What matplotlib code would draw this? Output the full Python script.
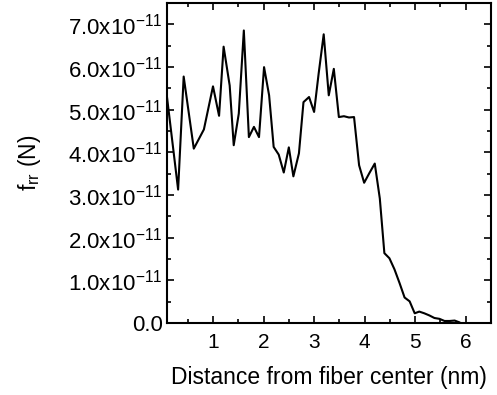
import numpy as np
import matplotlib
matplotlib.use("Agg")
import matplotlib.pyplot as plt
from matplotlib.ticker import MultipleLocator, FixedLocator, FuncFormatter

plt.rcParams['font.family'] = ['Liberation Sans', 'DejaVu Sans']
plt.rcParams['mathtext.fontset'] = 'custom'
plt.rcParams['mathtext.rm'] = 'Liberation Sans'
plt.rcParams['mathtext.it'] = 'Liberation Sans'

# distance (nm) and radial force (units of 1e-11 N)
dist = [0.09, 0.31, 0.42, 0.62, 0.82, 1.00, 1.12, 1.21, 1.33, 1.41,
        1.51, 1.61, 1.71, 1.81, 1.91, 2.01, 2.11, 2.20, 2.30, 2.40,
        2.50, 2.59, 2.70, 2.79, 2.90, 3.00, 3.09, 3.19, 3.29, 3.39,
        3.49, 3.59, 3.69, 3.79, 3.89, 3.99, 4.09, 4.20, 4.30, 4.39,
        4.49, 4.59, 4.69, 4.79, 4.89, 4.99, 5.08, 5.18, 5.28, 5.38,
        5.48, 5.58, 5.68, 5.78, 5.87]
force = [5.30, 3.13, 5.78, 4.09, 4.54, 5.55, 4.86, 6.48, 5.57, 4.17,
         4.91, 6.86, 4.36, 4.60, 4.36, 6.00, 5.34, 4.13, 3.95, 3.53,
         4.12, 3.44, 3.98, 5.18, 5.30, 4.95, 5.85, 6.77, 5.34, 5.96,
         4.83, 4.85, 4.82, 4.83, 3.70, 3.29, 3.51, 3.74, 2.92, 1.64,
         1.52, 1.26, 0.94, 0.60, 0.51, 0.23, 0.27, 0.23, 0.18, 0.12,
         0.10, 0.05, 0.05, 0.06, 0.02]
yticks = [0, 1, 2, 3, 4, 5, 6, 7]

fig = plt.figure(figsize=(4.97, 3.95), dpi=100)
ax = fig.add_axes([0.336, 0.182, 0.652, 0.810])
ax.plot(dist, np.array(force) * 1e-11, color='black', lw=1.5)

ax.set_xlim(0.09, 6.5)
ax.set_ylim(0, 7.5e-11)
ax.xaxis.set_major_locator(MultipleLocator(1))
ax.xaxis.set_minor_locator(MultipleLocator(0.5))
ax.yaxis.set_major_locator(FixedLocator([t * 1e-11 for t in yticks]))
ax.yaxis.set_minor_locator(MultipleLocator(0.5e-11))


def fmt(v, pos):
    m = v / 1e-11
    if abs(m) < 1e-6:
        return "0.0"
    return "%.1fx10$^{-11}$" % m


ax.yaxis.set_major_formatter(FuncFormatter(fmt))
ax.tick_params(which='both', direction='in', top=True, right=True, width=1.2)
ax.tick_params(axis='y', labelsize=16, pad=3)
ax.tick_params(axis='x', labelsize=15, pad=7)
ax.tick_params(which='major', length=5)
ax.tick_params(which='minor', length=3)
for s in ax.spines.values():
    s.set_linewidth(1.5)

ax.set_xlabel("Distance from fiber center (nm)", fontsize=16.5, labelpad=10)
ax.set_ylabel("f$_{rr}$ (N)", fontsize=16.5, labelpad=18)

fig.savefig("out.png", dpi=100)
